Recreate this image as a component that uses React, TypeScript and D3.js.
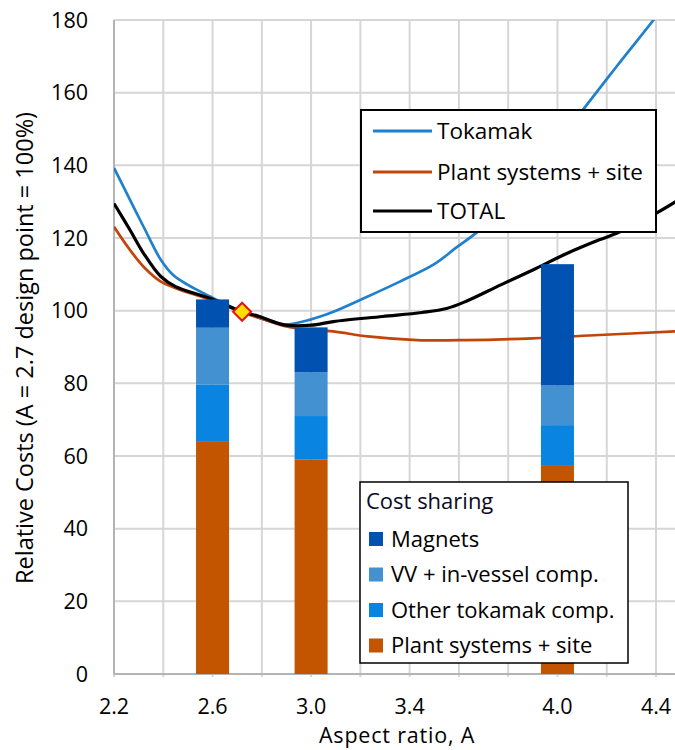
import React, { useRef, useEffect } from "react";
import * as d3 from "d3";

// cost sharing bars
const barRatios = [2.6, 3.0, 4.0];
const plantShare = [64.1, 59.1, 57.5];
const otherTokShare = [15.6, 11.9, 11.0];
const vvShare = [15.6, 12.0, 10.9];
const magnetShare = [7.8, 12.4, 33.4];

// curves
const tokamakA = [2.2, 2.265, 2.32, 2.39, 2.44, 2.5, 2.59, 2.7, 2.8, 2.89, 3.0, 3.08, 3.23, 3.36, 3.5, 3.59, 3.67, 3.8, 3.9, 4.0, 4.1, 4.24, 4.39, 4.48];
const tokamakCost = [139.3, 130.5, 123.1, 114, 109.8, 107.1, 103.9, 100.3, 97.8, 96.2, 97.6, 99.4, 103.9, 108, 112.8, 117.4, 121.4, 129.5, 137.5, 146, 155, 167.2, 180, 188];

const plantA = [2.2, 2.265, 2.32, 2.39, 2.45, 2.59, 2.72, 2.79, 2.89, 2.96, 3.09, 3.23, 3.43, 3.63, 3.9, 4.17, 4.48];
const plantCost = [123.1, 116.7, 112.1, 108, 106.2, 103.0, 99.5, 98, 95.8, 95.0, 94.3, 92.9, 91.9, 91.9, 92.4, 93.3, 94.3];

const totalA = [2.2, 2.265, 2.32, 2.39, 2.45, 2.59, 2.72, 2.79, 2.89, 3.0, 3.09, 3.29, 3.45, 3.55, 3.63, 3.77, 3.9, 4.04, 4.17, 4.24, 4.4, 4.48];
const totalCost = [129.5, 122.2, 115.8, 109.4, 106.6, 103.4, 99.7, 98.4, 96.1, 96.0, 97, 98.4, 99.5, 100.6, 102.6, 107.1, 111.2, 115.8, 119.5, 121.3, 126.8, 130];

const designPoint = { a: 2.72, cost: 99.7 };

const xTickLabels = [2.2, 2.6, 3.0, 3.4, 4.0, 4.4];
const xGrid = [2.2, 2.4, 2.6, 2.8, 3.0, 3.2, 3.4, 3.6, 3.8, 4.0, 4.2, 4.4];
const yTicks = [0, 20, 40, 60, 80, 100, 120, 140, 160, 180];

const lineSeries = ["Tokamak", "Plant systems + site", "TOTAL"];
const shareSeries = ["Magnets", "VV + in-vessel comp.", "Other tokamak comp.", "Plant systems + site"];

const FONT = "'Open Sans', sans-serif";

const App = () => {
    const svgRef = useRef<SVGSVGElement>(null);

    useEffect(() => {
        if (!svgRef.current) return;
        const width = 675;
        const height = 750;
        const left = 114, right = 675, top = 20, bottom = 674;

        d3.select(svgRef.current).selectAll("*").remove();
        const svg = d3.select(svgRef.current).attr("width", width).attr("height", height);

        const x = d3.scaleLinear().domain([2.2, 4.4]).range([left, 656]);
        const y = d3.scaleLinear().domain([0, 180]).range([bottom, top]);

        svg.append("rect").attr("width", width).attr("height", height).attr("fill", "#fff");

        // grid
        svg.append("g")
            .selectAll("line")
            .data(yTicks)
            .enter()
            .append("line")
            .attr("x1", left).attr("x2", right)
            .attr("y1", (d) => y(d)).attr("y2", (d) => y(d))
            .attr("stroke", "#d6d6d6").attr("stroke-width", 2);

        svg.append("g")
            .selectAll("line")
            .data(xGrid)
            .enter()
            .append("line")
            .attr("x1", (d) => x(d)).attr("x2", (d) => x(d))
            .attr("y1", top).attr("y2", bottom + 3)
            .attr("stroke", "#d6d6d6").attr("stroke-width", 2);

        // axis lines
        svg.append("line").attr("x1", left).attr("x2", left).attr("y1", top).attr("y2", bottom)
            .attr("stroke", "#b4b4b4").attr("stroke-width", 2);
        svg.append("line").attr("x1", left).attr("x2", right).attr("y1", bottom).attr("y2", bottom)
            .attr("stroke", "#b4b4b4").attr("stroke-width", 2);

        // tick labels
        svg.append("g")
            .selectAll("text")
            .data(yTicks)
            .enter()
            .append("text")
            .attr("x", 88)
            .attr("y", (d) => y(d))
            .attr("dy", "0.36em")
            .attr("text-anchor", "end")
            .style("font-family", FONT)
            .style("font-size", "21.5px")
            .style("fill", "#000")
            .text((d) => d);

        svg.append("g")
            .selectAll("text")
            .data(xTickLabels)
            .enter()
            .append("text")
            .attr("x", (d) => x(d))
            .attr("y", 714)
            .attr("text-anchor", "middle")
            .style("font-family", FONT)
            .style("font-size", "21.5px")
            .style("fill", "#000")
            .text((d) => d3.format(".1f")(d));

        // axis titles
        svg.append("text")
            .attr("transform", "translate(33,348) rotate(-90)")
            .attr("text-anchor", "middle")
            .style("font-family", FONT)
            .style("font-size", "23.5px")
            .text("Relative Costs (A = 2.7 design point = 100%)");

        svg.append("text")
            .attr("x", 397)
            .attr("y", 743)
            .attr("text-anchor", "middle")
            .style("font-family", FONT)
            .style("font-size", "21.5px")
            .style("letter-spacing", "0.8px")
            .text("Aspect ratio, A");

        // curves (clipped to plot area)
        svg.append("clipPath").attr("id", "plotClip")
            .append("rect").attr("x", left).attr("y", top).attr("width", right - left).attr("height", bottom - top);

        const line = d3.line<[number, number]>()
            .x((d) => x(d[0]))
            .y((d) => y(d[1]))
            .curve(d3.curveCatmullRom.alpha(0.5));

        const curves = [
            { pts: tokamakA.map((a, i) => [a, tokamakCost[i]] as [number, number]), color: "#1f80d0", w: 2.7 },
            { pts: plantA.map((a, i) => [a, plantCost[i]] as [number, number]), color: "#c2440a", w: 2.7 },
            { pts: totalA.map((a, i) => [a, totalCost[i]] as [number, number]), color: "#000", w: 3.2 },
        ];

        const lines = svg.append("g").attr("clip-path", "url(#plotClip)");
        curves.forEach((c) => {
            lines.append("path")
                .attr("d", line(c.pts))
                .attr("fill", "none")
                .attr("stroke", c.color)
                .attr("stroke-width", c.w);
        });

        // stacked bars
        const stackColors = ["#c35400", "#0984e0", "#4391d0", "#0152b0"];
        const halfW = 0.067;
        barRatios.forEach((a, i) => {
            const parts = [plantShare[i], otherTokShare[i], vvShare[i], magnetShare[i]];
            let base = 0;
            parts.forEach((p, j) => {
                svg.append("rect")
                    .attr("x", x(a - halfW))
                    .attr("width", x(a + halfW) - x(a - halfW))
                    .attr("y", y(base + p))
                    .attr("height", y(base) - y(base + p))
                    .attr("fill", stackColors[j]);
                base += p;
            });
        });

        // design point marker
        const cx = x(designPoint.a), cy = y(designPoint.cost);
        svg.append("path")
            .attr("d", `M${cx},${cy - 9} L${cx + 9},${cy} L${cx},${cy + 9} L${cx - 9},${cy} Z`)
            .attr("fill", "#ffe000")
            .attr("stroke", "#e8101a")
            .attr("stroke-width", 2);

        // line legend
        const lg = svg.append("g");
        lg.append("rect").attr("x", 361).attr("y", 110).attr("width", 295).attr("height", 122)
            .attr("fill", "#fff").attr("stroke", "#000").attr("stroke-width", 2);
        lineSeries.forEach((name, i) => {
            const ly = [131, 172, 211][i];
            lg.append("line").attr("x1", 373).attr("x2", 432).attr("y1", ly).attr("y2", ly)
                .attr("stroke", curves[i].color).attr("stroke-width", 3.2);
            lg.append("text").attr("x", 437).attr("y", ly).attr("dy", "0.35em")
                .style("font-family", FONT).style("font-size", "22.5px").text(name);
        });

        // cost sharing legend
        const sg = svg.append("g");
        sg.append("rect").attr("x", 360).attr("y", 482).attr("width", 268).attr("height", 181)
            .attr("fill", "#fff").attr("stroke", "#000").attr("stroke-width", 1.5);
        sg.append("text").attr("x", 366).attr("y", 509)
            .style("font-family", FONT).style("font-size", "22px").style("fill", "#0a0a28").text("Cost sharing");
        const legColors = [stackColors[3], stackColors[2], stackColors[1], stackColors[0]];
        shareSeries.forEach((name, i) => {
            const ly = 539 + i * 35.5;
            sg.append("rect").attr("x", 369).attr("y", ly - 7).attr("width", 14).attr("height", 14)
                .attr("fill", legColors[i]);
            sg.append("text").attr("x", 391).attr("y", ly).attr("dy", "0.35em")
                .style("font-family", FONT).style("font-size", "22px").text(name);
        });
    }, []);

    return <svg ref={svgRef} style={{ position: "absolute", left: 0, top: 0 }} />;
};

export default App;
